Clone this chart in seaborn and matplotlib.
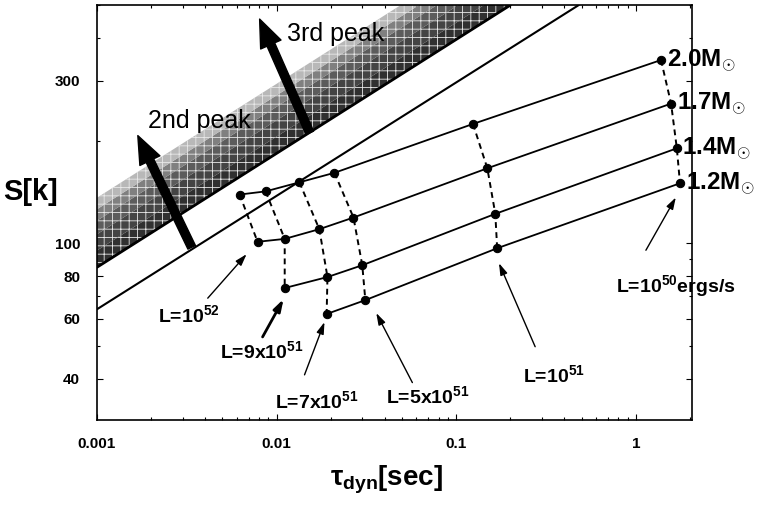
import numpy as np
import pandas as pd
import matplotlib
matplotlib.use('Agg')
import matplotlib.pyplot as plt
import matplotlib.ticker as mticker
import seaborn as sns

# tau_dyn [sec] and S [k] along each mass sequence
masses = ['2.0', '1.7', '1.4', '1.2']
tau_20 = [0.00623, 0.00869, 0.0134, 0.0210, 0.124, 1.38]
s_20 = [139, 142, 151, 161, 224, 345]
tau_17 = [0.00784, 0.0111, 0.0173, 0.0268, 0.149, 1.57]
s_17 = [101, 103, 110, 119, 166, 257]
tau_14 = [0.0111, 0.0192, 0.0300, 0.165, 1.69]
s_14 = [73.9, 79.6, 86.2, 122, 190]
tau_12 = [0.0190, 0.0312, 0.169, 1.76]
s_12 = [62.0, 68.1, 96.7, 150]

# luminosities, highest first (lower masses start further down the list)
lums = ['1e52', '9e51', '7e51', '5e51', '1e51', '1e50']

# 2nd / 3rd peak boundaries, straight lines in log-log (end points)
peak3_tau = [0.001, 0.2]
peak3_s = [85, 500]
peak2_tau = [0.001, 0.48]
peak2_s = [64, 500]

rows = []
for m, t, s in zip(masses, [tau_20, tau_17, tau_14, tau_12], [s_20, s_17, s_14, s_12]):
    for L, ti, si in zip(lums[-len(t):], t, s):
        rows.append({'mass': m, 'L': L, 'tau': ti, 'S': si})
df = pd.DataFrame(rows)

sns.set_style('ticks')
plt.rcParams['font.family'] = ['Liberation Sans', 'DejaVu Sans']
plt.rcParams['mathtext.fontset'] = 'custom'
plt.rcParams['mathtext.rm'] = 'Liberation Sans:bold'
plt.rcParams['mathtext.it'] = 'Liberation Sans:bold'
plt.rcParams['mathtext.bf'] = 'Liberation Sans:bold'
plt.rcParams['hatch.linewidth'] = 0.6
for k in ['text.color', 'axes.labelcolor', 'xtick.color', 'ytick.color', 'axes.edgecolor']:
    plt.rcParams[k] = 'black'

fig = plt.figure(figsize=(7.57, 5.14), dpi=100)
ax = fig.add_axes([0.128, 0.183, 0.786, 0.807])
ax.set_xscale('log')
ax.set_yscale('log')

# shaded band above the 3rd-peak line, fading upward
p3 = np.array(peak3_s, dtype=float)
factors = [1.0, 1.12, 1.25, 1.37, 1.48, 1.6]
shades = ['#303030', '#444444', '#5c5c5c', '#808080', '#b8b8b8']
for f0, f1, c in zip(factors[:-1], factors[1:], shades):
    ax.fill_between(peak3_tau, p3 * f0, p3 * f1, facecolor=c, edgecolor='#e8e8e8',
                    hatch='++', linewidth=0, zorder=1)

sns.lineplot(x=peak3_tau, y=peak3_s, color='black', lw=2.0, ax=ax, zorder=3)
sns.lineplot(x=peak2_tau, y=peak2_s, color='black', lw=1.5, ax=ax, zorder=3)

# constant-luminosity dashed curves
for L in lums:
    sub = df[df['L'] == L]
    sns.lineplot(data=sub, x='tau', y='S', sort=False, estimator=None, color='black',
                 lw=1.4, linestyle=(0, (3, 2.2)), ax=ax, zorder=3)

# constant-mass curves
for m in masses:
    sub = df[df['mass'] == m]
    sns.lineplot(data=sub, x='tau', y='S', estimator=None, color='black', lw=1.3,
                 marker='o', markersize=6, markeredgecolor='black', ax=ax, zorder=4)
    last = sub.iloc[-1]
    ax.annotate(m + r'M$_{\odot}$', xy=(last['tau'], last['S']), xytext=(4, 0),
                textcoords='offset points', ha='left', va='center', fontsize=17.5,
                fontweight='bold', annotation_clip=False, zorder=5)

# thick arrows: 2nd and 3rd peak
big = dict(arrowstyle='simple,head_length=1.0,head_width=0.8,tail_width=0.3',
           mutation_scale=20, color='black', shrinkA=0, shrinkB=0)
ax.annotate('', xy=(0.00169, 207), xytext=(0.00337, 97.3), arrowprops=big, zorder=5)
ax.annotate('', xy=(0.00805, 455), xytext=(0.0153, 211), arrowprops=big, zorder=5)
ax.text(0.00192, 229, '2nd peak', fontsize=18, ha='left', va='center', zorder=6)
ax.text(0.0114, 411, '3rd peak', fontsize=18, ha='left', va='center', zorder=6)

# luminosity labels with thin arrows
thin = dict(arrowstyle='-|>,head_length=0.7,head_width=0.22', color='black', lw=1.0,
            shrinkA=0, shrinkB=0)
labels = [
    (r'L=10$^{52}$', (0.00218, 58.7), (0.00414, 69.0), (0.00681, 92.9), 1.0),
    (r'L=9x10$^{51}$', (0.00482, 46.1), (0.00836, 53.1), (0.01094, 68.6), 2.0),
    (r'L=7x10$^{51}$', (0.00975, 32.9), (0.01431, 41.1), (0.01848, 58.7), 1.0),
    (r'L=5x10$^{51}$', (0.0408, 34.0), (0.0570, 39.0), (0.0359, 62.4), 1.0),
    (r'L=10$^{51}$', (0.236, 39.2), (0.275, 49.7), (0.173, 87.4), 1.0),
    (r'L=10$^{50}$ergs/s', (0.774, 71.9), (1.137, 95.4), (1.668, 136.3), 1.0),
]
for txt, tpos, tail, head, w in labels:
    props = dict(thin)
    props['lw'] = w
    ax.annotate('', xy=head, xytext=tail, arrowprops=props, annotation_clip=False)
    ax.text(tpos[0], tpos[1], txt, fontsize=14, fontweight='bold', ha='left',
            va='baseline', clip_on=False)

ax.set_xlim(0.001, 2.05)
ax.set_ylim(30.3, 500)
ax.set_xticks([0.001, 0.01, 0.1, 1], labels=['0.001', '0.01', '0.1', '1'])
ax.set_yticks([40, 60, 80, 100, 300], labels=['40', '60', '80', '100', '300'])
ax.xaxis.set_minor_locator(mticker.LogLocator(subs=np.arange(2, 10)))
ax.yaxis.set_minor_locator(mticker.LogLocator(subs=np.arange(2, 10)))
ax.xaxis.set_minor_formatter(mticker.NullFormatter())
ax.yaxis.set_minor_formatter(mticker.NullFormatter())
ax.tick_params(which='both', direction='in', top=True, right=True, width=0.8)
ax.tick_params(which='major', length=4, labelsize=11, pad=12)
ax.tick_params(which='minor', length=2)
for lab in ax.get_xticklabels() + ax.get_yticklabels():
    lab.set_fontweight('bold')
for sp in ax.spines.values():
    sp.set_linewidth(1.2)

ax.set_xlabel(r'$\tau_{dyn}$[sec]', fontsize=20, fontweight='bold', va='center')
ax.xaxis.set_label_coords(0.486, -0.145)
ax.set_ylabel('S[k]', fontsize=21, fontweight='bold', rotation=0, ha='center', va='center')
ax.yaxis.set_label_coords(-0.111, 0.549)

fig.savefig('out.png', dpi=100)
